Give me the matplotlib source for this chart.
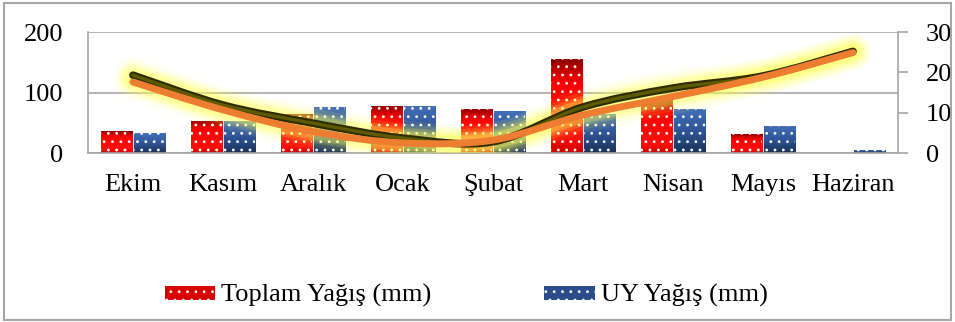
import matplotlib
matplotlib.use("Agg")
import matplotlib.pyplot as plt
import numpy as np
from matplotlib.path import Path
from matplotlib.patches import PathPatch, Patch, Rectangle
from matplotlib.colors import LinearSegmentedColormap

plt.rcParams['font.family'] = ['Liberation Serif', 'DejaVu Serif']
plt.rcParams['hatch.linewidth'] = 0.8

months = ["Ekim", "Kasım", "Aralık", "Ocak", "Şubat", "Mart", "Nisan", "Mayıs", "Haziran"]
toplam_yagis = [36, 53, 64, 78, 73, 155, 87, 31, 0]
uy_yagis = [33, 53, 76, 78, 69, 65, 73, 45, 5]
line_dark = [19.3, 11.9, 7.4, 3.7, 2.8, 11.4, 16.1, 19.1, 25.2]
line_orange = [17.6, 10.7, 5.3, 2.5, 3.2, 9.4, 14.0, 18.8, 24.9]

FS = 19

red_cmap = LinearSegmentedColormap.from_list(
    "red", [(0, "#8c0000"), (0.25, "#ff0000"), (0.85, "#ff0d0d"), (1, "#c80000")])
blue_cmap = LinearSegmentedColormap.from_list(
    "blue", [(0, "#4470b8"), (0.5, "#2f5597"), (1, "#1a3259")])


def gradient_bars(ax, xs, heights, width, cmap, label):
    bars = ax.bar(xs, heights, width, facecolor="none", edgecolor="white",
                  hatch="..", linewidth=0, zorder=3, label=label)
    grad = np.linspace(0, 1, 64).reshape(-1, 1)
    for b in bars:
        if b.get_height() <= 0:
            continue
        x0, w, h = b.get_x(), b.get_width(), b.get_height()
        im = ax.imshow(grad, cmap=cmap, aspect="auto", origin="upper",
                       extent=(x0, x0 + w, 0, h), zorder=2)
        clip = Rectangle((x0, 0), w, h, transform=ax.transData)
        im.set_clip_path(clip)
    return bars


def smooth_path(xs, ys):
    pts = np.column_stack([xs, ys]).astype(float)
    n = len(pts)
    verts = [pts[0]]
    codes = [Path.MOVETO]
    for i in range(n - 1):
        p0 = pts[i - 1] if i > 0 else pts[i]
        p1, p2 = pts[i], pts[i + 1]
        p3 = pts[i + 2] if i + 2 < n else pts[i + 1]
        c1 = p1 + (p2 - p0) / 6.0
        c2 = p2 - (p3 - p1) / 6.0
        verts += [c1, c2, p2]
        codes += [Path.CURVE4] * 3
    return Path(verts, codes)


fig = plt.figure(figsize=(9.55, 3.22), dpi=100)
ax = fig.add_axes([0.0921, 0.5248, 0.8482, 0.3758])
x = np.arange(len(months))
w = 0.345

gradient_bars(ax, x - 0.18, toplam_yagis, w, red_cmap, "Toplam Yağış (mm)")
gradient_bars(ax, x + 0.18, uy_yagis, w, blue_cmap, "UY Yağış (mm)")

ax.set_xlim(-0.5, len(months) - 0.5)
ax.set_ylim(0, 200)
ax.set_yticks([0, 100, 200])
ax.yaxis.grid(True, color="#a6a6a6", linewidth=1.2, zorder=0)
ax.set_axisbelow(True)
ax.set_xticks(x)
ax.set_xticklabels(months)
ax.tick_params(axis="x", length=0, pad=15, labelsize=FS)
ax.tick_params(axis="y", length=0, pad=18, labelsize=FS)
for side in ["top", "right"]:
    ax.spines[side].set_visible(False)
for side in ["left", "bottom"]:
    ax.spines[side].set_color("#a6a6a6")
    ax.spines[side].set_linewidth(1.2)

ax2 = ax.twinx()
ax2.set_ylim(0, 30)
ax2.set_yticks([0, 10, 20, 30])
ax2.tick_params(axis="y", length=7, width=1.2, color="#a6a6a6", pad=13, labelsize=FS)
for side in ["top", "left", "bottom"]:
    ax2.spines[side].set_visible(False)
ax2.spines["right"].set_color("#a6a6a6")
ax2.spines["right"].set_linewidth(1.2)

# soft yellow glow under both curves
for ys in (line_dark, line_orange):
    path = smooth_path(x, ys)
    for lw, a in [(26, 0.07), (21, 0.1), (16, 0.14), (12, 0.22)]:
        ax2.add_patch(PathPatch(path, fill=False, edgecolor="#ffff55", linewidth=lw,
                                alpha=a, capstyle="round", joinstyle="round", zorder=4))

dark = smooth_path(x, line_dark)
ax2.add_patch(PathPatch(dark, fill=False, edgecolor="#2e2c00",
                        linewidth=5.5, capstyle="round", zorder=5))
ax2.add_patch(PathPatch(dark, fill=False, edgecolor="#5e5a00",
                        linewidth=2.4, capstyle="round", zorder=5))
ax2.add_patch(PathPatch(smooth_path(x, line_orange), fill=False, edgecolor="#ed7d31",
                        linewidth=5, capstyle="round", zorder=6))

handles = [Patch(facecolor="#d80000", edgecolor="white", hatch="..", linewidth=0),
           Patch(facecolor="#2a4d8a", edgecolor="white", hatch="..", linewidth=0)]
fig.legend(handles, ["Toplam Yağış (mm)", "UY Yağış (mm)"], loc="center",
           bbox_to_anchor=(0.488, 0.081), ncol=2, frameon=False, fontsize=FS,
           handlelength=1.93, handleheight=0.45, handletextpad=0.2, columnspacing=4.3)

fig.add_artist(Rectangle((0.004, 0.006), 0.992, 0.986, transform=fig.transFigure,
                         fill=False, edgecolor="#a6a6a6", linewidth=1.5))

fig.savefig("out.png", dpi=100)
